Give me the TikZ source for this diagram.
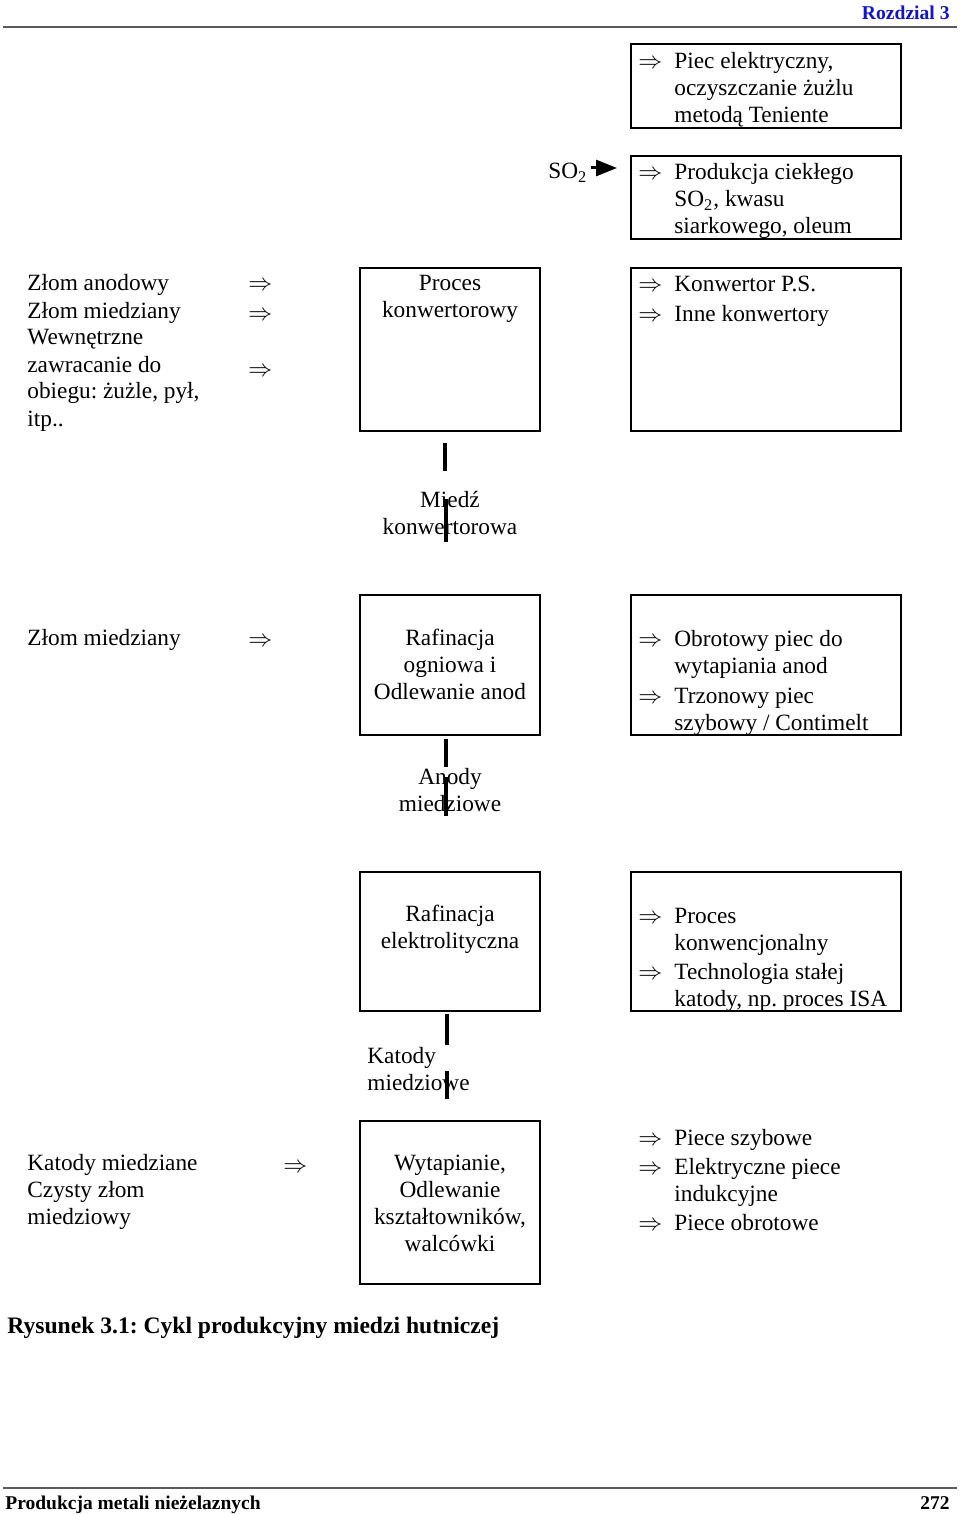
\documentclass[tikz,border=0pt]{standalone}
\usepackage{fontspec}
\setmainfont{Liberation Serif}
\usetikzlibrary{fit,arrows.meta}
\definecolor{hdrblue}{RGB}{20,20,200}
\definecolor{rulegray}{RGB}{90,90,90}
\frenchspacing
\newcommand\itemarrow{\llap{$\Rightarrow$\hspace{6pt}}}
\newcommand\Lcol[1]{\begin{tabular}[t]{@{}l@{}}#1\end{tabular}}
\newcommand\Ccol[1]{\begin{tabular}[t]{@{}c@{}}#1\end{tabular}}
\begin{document}
\begin{tikzpicture}[x=0.5pt,y=-0.5pt,
  box/.style={draw, line width=0.65pt, inner sep=0pt},
  txt/.style={anchor=base west, inner sep=0pt, font=\fontsize{11.65}{13.5}\selectfont},
  ctxt/.style={anchor=base, inner sep=0pt, font=\fontsize{11.65}{13.5}\selectfont},
  bar/.style={line width=2.3pt},
  hrule/.style={draw=rulegray, line width=1pt},
  soarrow/.style={line width=1.5pt, -{Triangle[length=10.5pt,width=8pt]}},
]
\useasboundingbox (0,0) rectangle (960,1514);
\fill[white] (0,0) rectangle (960,1514);

% header
\node[anchor=base east, inner sep=0pt, font=\fontsize{9.8}{12}\selectfont\bfseries, text=hdrblue] (hdr) at (950,20) {Rozdzial 3};
\coordinate (hl) at (3,27); \coordinate (hr) at (957,27);
\draw[hrule] (hl) -- (hr);

% row 1 right boxes
\node[box, fit={(631,44) (901,128)}] (bA) {};
\node[txt] (tA) at (674,69) {\Lcol{\itemarrow Piec elektryczny,\\ oczyszczanie żużlu\\ metodą Teniente}};
\node[box, fit={(631,156) (901,239)}] (bB) {};
\node[txt] (tB) at (674,180) {\Lcol{\itemarrow Produkcja ciekłego\\ SO\textsubscript{2}, kwasu\\ siarkowego, oleum}};
\node[txt] (so2) at (548,179) {SO\textsubscript{2}};
\coordinate (so2tip) at (617,168);
\draw[soarrow] ([xshift=1.5pt]so2.east |- so2tip) -- (so2tip);

% row 2
\node[txt] (lin1) at (27,291) {\Lcol{Złom anodowy\\ Złom miedziany\\ Wewnętrzne\\ zawracanie do\\ obiegu: żużle, pył,\\ itp..}};
\node[txt] (a1) at (248,291) {$\Rightarrow$};
\node[txt] (a2) at (248,320) {$\Rightarrow$};
\node[txt] (a3) at (248,376) {$\Rightarrow$};
\node[box, fit={(360,268) (540,431)}] (bC) {};
\node[ctxt] (tC) at (450,290) {\Ccol{Proces\\ konwertorowy}};
\node[box, fit={(631,268) (901,431)}] (bD) {};
\node[txt] (tD) at (674,292) {\Lcol{\itemarrow Konwertor P.S.\\[1pt] \itemarrow Inne konwertory}};

\node[ctxt] (mk) at (450,507) {\Ccol{Miedź\\ konwertorowa}};

% row 3
\node[txt] (lin2) at (27,645) {Złom miedziany};
\node[txt] (a4) at (248,646) {$\Rightarrow$};
\node[box, fit={(360,595) (540,735)}] (bE) {};
\node[ctxt] (tE) at (450,645) {\Ccol{Rafinacja\\ ogniowa i\\ Odlewanie anod}};
\node[box, fit={(631,595) (901,735)}] (bF) {};
\node[txt] (tF) at (674,646) {\Lcol{\itemarrow Obrotowy piec do\\ wytapiania anod\\[1.5pt] \itemarrow Trzonowy piec\\ szybowy / Contimelt}};

\node[ctxt] (am) at (450,784) {\Ccol{Anody\\ miedziowe}};

% row 4
\node[box, fit={(360,872) (540,1011)}] (bG) {};
\node[ctxt] (tG) at (450,921) {\Ccol{Rafinacja\\ elektrolityczna}};
\node[box, fit={(631,872) (901,1011)}] (bH) {};
\node[txt] (tH) at (674,923) {\Lcol{\itemarrow Proces\\ konwencjonalny\\[1pt] \itemarrow Technologia stałej\\ katody, np. proces ISA}};

\node[txt] (km) at (367,1063) {\Lcol{Katody\\ miedziowe}};

% row 5
\node[txt] (lin3) at (27,1170) {\Lcol{Katody miedziane\\ Czysty złom\\ miedziowy}};
\node[txt] (a5) at (283,1172) {$\Rightarrow$};
\node[box, fit={(360,1121) (540,1284)}] (bI) {};
\node[ctxt] (tI) at (450,1170) {\Ccol{Wytapianie,\\ Odlewanie\\ kształtowników,\\ walcówki}};
\node[txt] (tJ) at (674,1145) {\Lcol{\itemarrow Piece szybowe\\[1pt] \itemarrow Elektryczne piece\\ indukcyjne\\[1pt] \itemarrow Piece obrotowe}};

% bars (broken connectors)
\coordinate (c1a) at (445,443); \coordinate (c1b) at (445,471);
\coordinate (c2a) at (446,499); \coordinate (c2b) at (446,542);
\draw[bar] (c1a) -- (c1b);
\draw[bar] (c2a) -- (c2b);
\coordinate (e1a) at (446,739); \coordinate (e1b) at (446,767);
\coordinate (e2a) at (446,777); \coordinate (e2b) at (446,816);
\draw[bar] (e1a) -- (e1b);
\draw[bar] (e2a) -- (e2b);
\coordinate (g1a) at (447,1014); \coordinate (g1b) at (447,1045);
\coordinate (g2a) at (447,1071); \coordinate (g2b) at (447,1099);
\draw[bar] (g1a) -- (g1b);
\draw[bar] (g2a) -- (g2b);

% caption
\node[anchor=base west, inner sep=0pt, font=\fontsize{11.8}{14}\selectfont\bfseries] (cap) at (7,1333) {Rysunek 3.1: Cykl produkcyjny miedzi hutniczej};

% footer
\coordinate (fl) at (3,1488); \coordinate (fr) at (957,1488);
\draw[hrule] (fl) -- (fr);
\node[anchor=base west, inner sep=0pt, font=\fontsize{9.75}{12}\selectfont\bfseries] (foot) at (5,1509) {Produkcja metali nieżelaznych};
\node[anchor=base east, inner sep=0pt, font=\fontsize{9.75}{12}\selectfont\bfseries] (page) at (950,1509) {272};
\end{tikzpicture}
\end{document}
